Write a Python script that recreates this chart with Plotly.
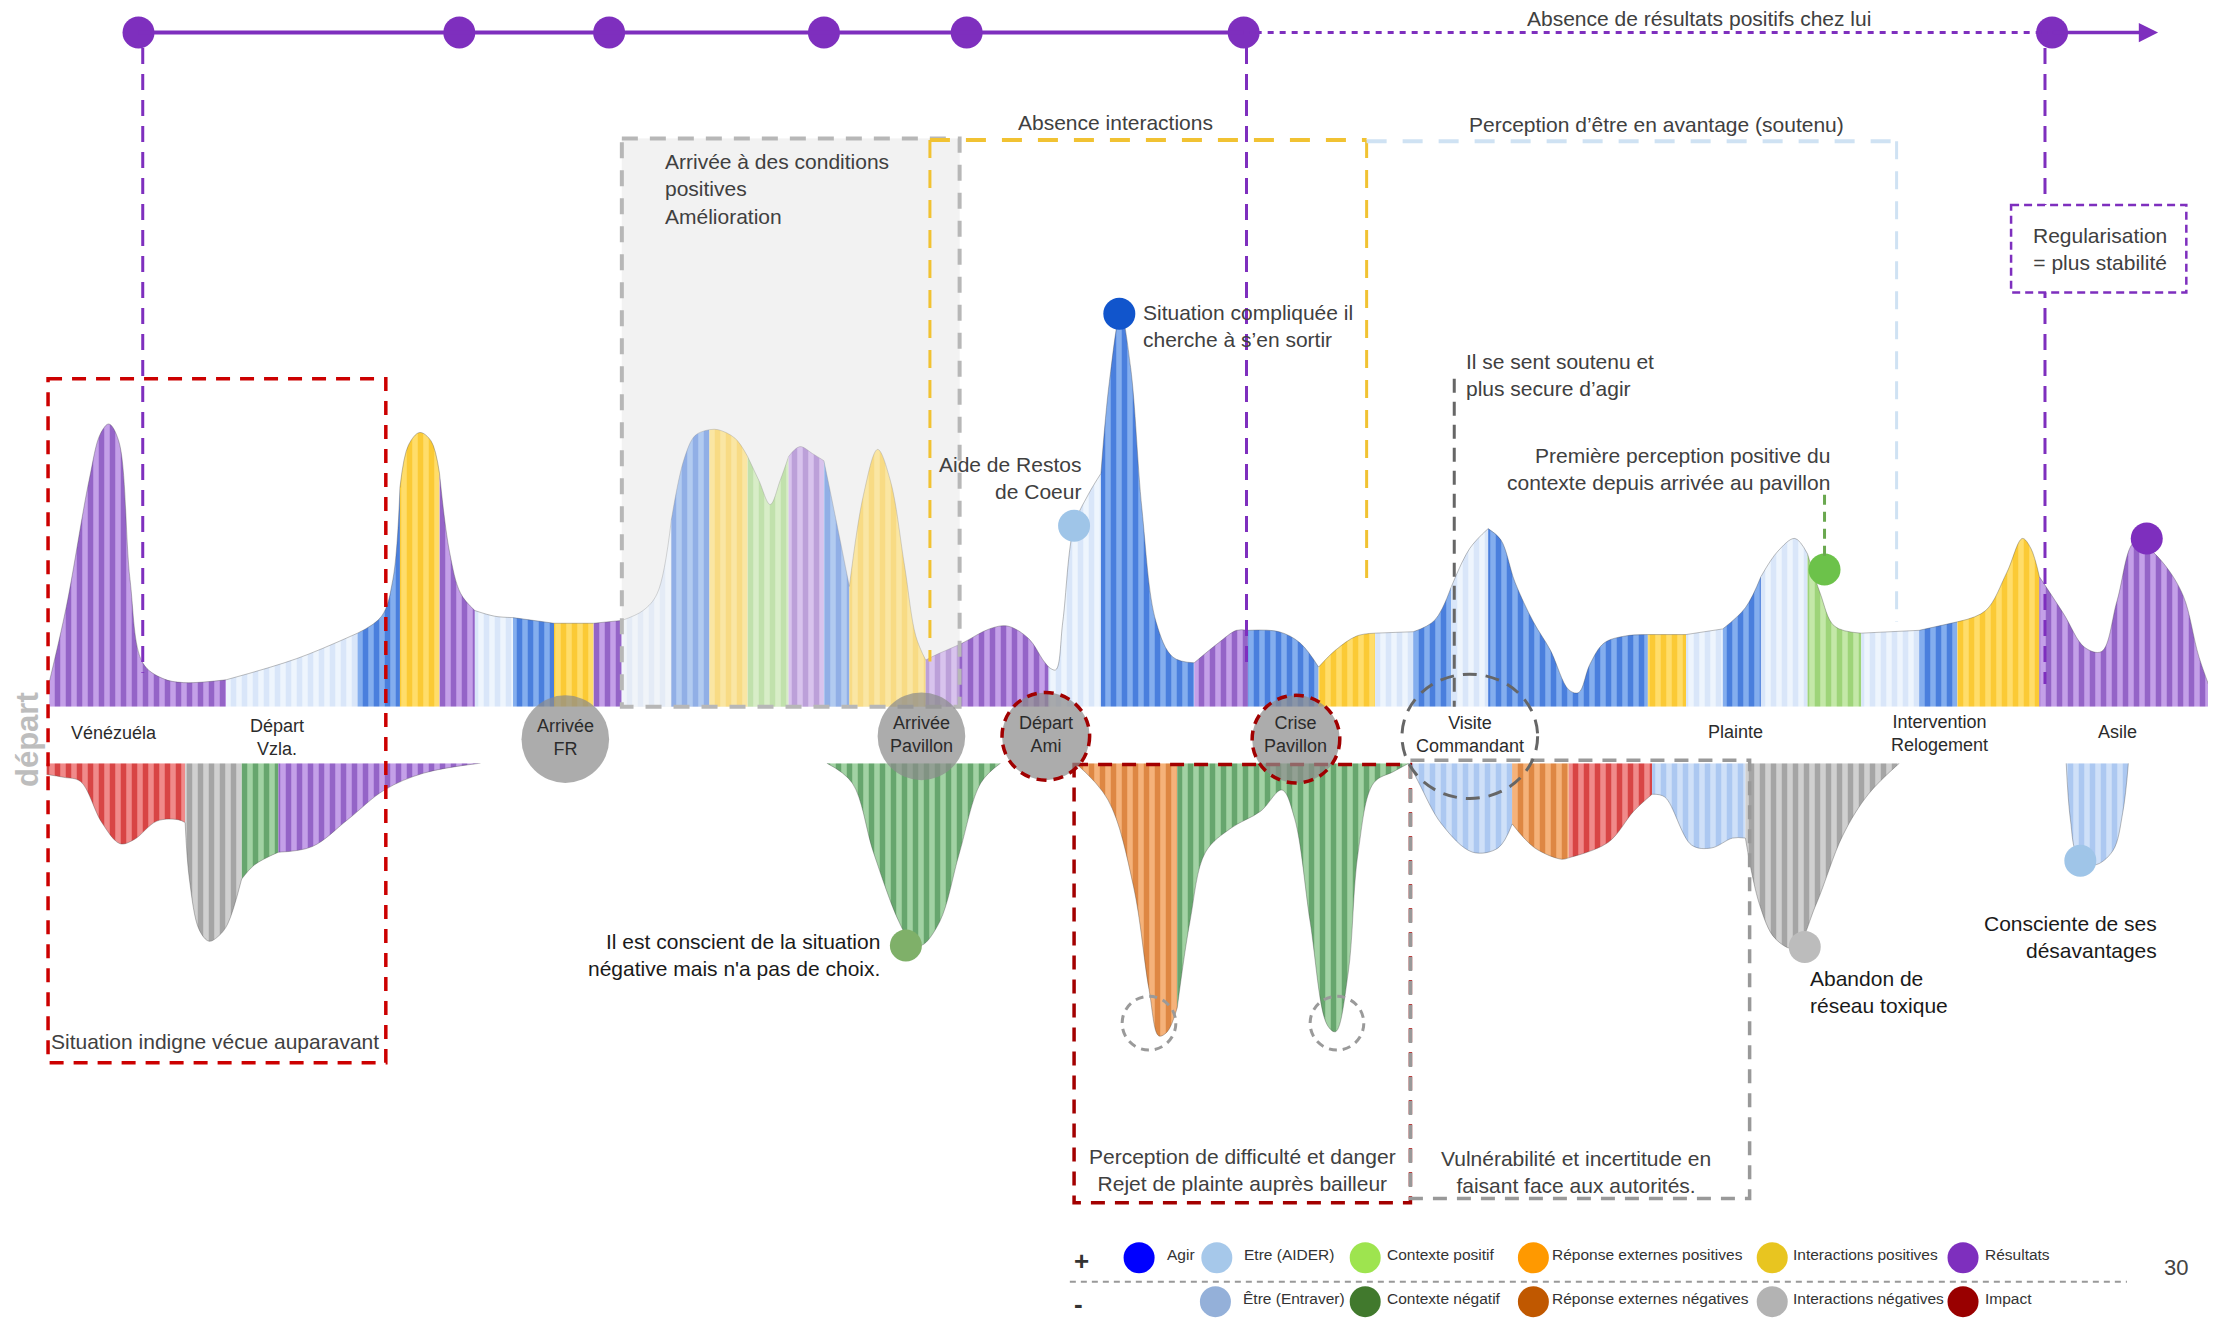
import plotly.graph_objects as go

# ======================= DATA =======================
# Timeline units: horizontal position along the journey (0..1568)
# Positive emotional curve: control points (position, intensity above baseline)
pos_x = [35, 47, 63, 71, 77, 84, 92, 101, 115, 130, 160,
         210, 253,
         270, 278, 283,
         289, 297, 305, 311,
         318, 326, 336,
         350, 363,
         392, 420, 440,
         455, 465, 475,
         484, 492, 502,
         508, 520, 529,
         537, 545, 552, 558,
         566, 575, 583,
         592, 601,
         611, 621, 630, 640, 648, 655,
         663, 681, 700, 713, 728, 738, 742,
         747, 752, 760, 770, 779,
         785, 793, 800, 808, 818, 830, 845,
         862, 875, 883,
         905, 920, 933,
         945, 960, 973,
         1000, 1015, 1027,
         1040, 1053,
         1062, 1072, 1085, 1097, 1110, 1117, 1125, 1135, 1150, 1166,
         1193, 1219,
         1235, 1246,
         1258, 1270, 1279,
         1288, 1298, 1317,
         1358, 1385,
         1405, 1420, 1431, 1437, 1443,
         1460, 1475, 1487, 1498, 1510, 1520, 1532, 1545, 1556, 1568]
pos_h = [18, 71, 160, 193, 200, 188, 90, 31, 20, 17, 19,
         34, 52,
         64, 90, 155,
         185, 194, 188, 165,
         110, 80, 68,
         64, 63,
         59, 59, 61,
         68, 80, 132,
         175, 192, 196,
         196, 190, 177,
         160, 143, 160, 177,
         184, 179, 174,
         130, 85,
         150, 182, 160, 100, 50, 33,
         37, 45, 55, 57, 48, 33, 28,
         26, 60, 128, 150, 165,
         230, 278, 240, 140, 60, 35, 31,
         45, 54, 54,
         53, 45, 28,
         40, 50, 52,
         53, 61, 85,
         112, 126,
         118, 88, 60, 40, 12, 10, 30, 45, 50, 51,
         51, 55,
         70, 92,
         110, 119, 108,
         80, 57, 52,
         54, 60,
         68, 95, 119, 112, 92,
         66, 42, 39, 75, 116, 112, 100, 78, 35, 2]
pos_seg_start = [35, 160, 253, 283, 311, 336, 363, 392, 420, 440, 475, 502, 529, 558, 583, 601, 655, 742,
                 779, 845, 883, 933, 973, 1000, 1027, 1053, 1166, 1193, 1219, 1246, 1279, 1317, 1358, 1385, 1443]
pos_seg_end = [160, 253, 283, 311, 336, 363, 392, 420, 440, 475, 502, 529, 558, 583, 601, 655, 742, 779,
               845, 883, 933, 973, 1000, 1027, 1053, 1166, 1193, 1219, 1246, 1279, 1317, 1358, 1385, 1443, 1568]
pos_seg_cat = ['res', 'aider', 'agir', 'ipos', 'res', 'aider', 'agir', 'ipos', 'res', 'aider',
               'agir', 'ipos', 'cpos', 'res', 'agir', 'ipos', 'res', 'aider', 'agir', 'res',
               'agir', 'ipos', 'aider', 'agir', 'aider', 'agir', 'ipos', 'aider', 'agir', 'aider',
               'cpos', 'aider', 'agir', 'ipos', 'res']

# Negative emotional curve: control points (position, intensity below baseline)
neg_x = [33, 45, 57, 72, 85, 95, 111, 126, 131,
         134, 141, 148, 155, 161, 171,
         180, 197,
         221, 246, 272, 300, 340,
         585, 603, 618, 636, 645, 652, 665, 679, 694, 708,
         761, 784, 802, 813, 820, 826, 833,
         842, 853, 871, 892, 907, 916, 927, 939, 945, 954, 961, 972, 986, 997,
         1004, 1020, 1042, 1060, 1070,
         1086, 1105, 1110,
         1138, 1156, 1169,
         1178, 1197, 1211, 1226, 1235,
         1245, 1256, 1270, 1285, 1304, 1322, 1344,
         1462, 1465, 1470, 1482, 1495, 1502, 1506]
neg_d = [-8, -10, -13, -42, -57, -54, -41, -40, -42,
         -82, -118, -126, -122, -114, -82,
         -72, -63,
         -59, -40, -19, -7, 0,
         0, -14, -63, -112, -127, -129, -112, -63, -14, 0,
         0, -26, -87, -160, -193, -190, -173,
         -112, -63, -46, -34, -19, -39, -112, -185, -190, -148, -63, -14, -6, 0,
         -14, -43, -63, -60, -43,
         -60, -68, -67,
         -56, -34, -22,
         -24, -58, -60, -53, -53,
         -100, -124, -131, -100, -51, -22, 0,
         0, -40, -65, -72, -62, -35, 0]
neg_seg_start = [33, 131, 171, 197, 585, 761, 833, 997, 1070, 1110, 1169, 1235, 1462]
neg_seg_end = [131, 171, 197, 340, 708, 833, 997, 1070, 1110, 1169, 1235, 1344, 1506]
neg_seg_cat = ['impact', 'ineg', 'cneg', 'res', 'cneg', 'rneg', 'cneg', 'eneg', 'rneg', 'impact',
               'eneg', 'ineg', 'eneg']

# Results timeline (top)
timeline_x = [98, 325, 431, 583, 684, 880, 1452]

# Events on the middle band
event_labels = ["Vénézuéla", "Départ<br>Vzla.", "Arrivée<br>FR", "Arrivée<br>Pavillon", "Départ<br>Ami",
                "Crise<br>Pavillon", "Visite<br>Commandant", "Plainte", "Intervention<br>Relogement", "Asile"]
event_x = [81, 196, 400, 652, 740, 917, 1040, 1228, 1372, 1498]

# Highlighted moments (dots)
moment_x = [792, 760, 1291, 1519, 641, 1277, 1472]
moment_y = [222, 372, 403, 381, 669, 670, 609]
moment_cat = ['agir_dot', 'aider_dot', 'cpos_dot', 'res_dot', 'cneg_dot', 'ineg_dot', 'aider_dot']

# Legend
legend_pos_labels = ["Agir", "Etre (AIDER)", "Contexte positif", "Réponse externes positives",
                     "Interactions positives", "Résultats"]
legend_neg_labels = ["Être (Entraver)", "Contexte négatif", "Réponse externes négatives",
                     "Interactions négatives", "Impact"]
page_number = "30"

# ======================= STYLES / LAYOUT =======================
OFF = 8 / (2216 / 1568)        # compensates the page's 8px body margin
POS_BASE, NEG_BASE, SX, SY = 500, 540, 1568, 934
FONT = "Liberation Sans, Arial, sans-serif"
TXT = "#404040"
PURPLE = "#7e2fbe"
STYLE = {
    'res': ('#6428a6', '#c4a0e8'),
    'aider': ('#c3d8f5', '#eef5fd'),
    'agir': ('#0f4fcc', '#84aeee'),
    'ipos': ('#f7b800', '#ffdd6a'),
    'cpos': ('#78c04a', '#c4e8a8'),
    'impact': ('#c00000', '#f08a8a'),
    'ineg': ('#7a7a7a', '#d0d0d0'),
    'cneg': ('#2b7a37', '#a2d2a4'),
    'rneg': ('#c75c0c', '#f5b27a'),
    'eneg': ('#89afe9', '#cfe0f8'),
}
DOT_COL = {'agir_dot': '#1155cc', 'aider_dot': '#9fc5e8', 'cpos_dot': '#6cc24a', 'res_dot': PURPLE,
           'cneg_dot': '#7fb069', 'ineg_dot': '#bcbcbc'}
LEG_POS_COL = ['#0000ff', '#a6c8ea', '#9ee44f', '#ff9900', '#e8c520', '#7e2fbe']
LEG_NEG_COL = ['#94b0d9', '#41792d', '#c05800', '#b3b3b3', '#990000']
LEG_POS_DOT_X = [806, 861, 966, 1085, 1254, 1389]
LEG_POS_TXT_X = [824, 879, 980, 1097, 1267, 1403]
LEG_NEG_DOT_X = [860, 966, 1085, 1254, 1389]
LEG_NEG_TXT_X = [878, 980, 1097, 1267, 1403]

fig = go.Figure()


def pick(xs, ys, s, e):
    px, py = [], []
    for x, y in zip(xs, ys):
        if s <= x <= e:
            px.append(x)
            py.append(y)
    return px, py


def add_curve(xs, ys, starts, ends, cats, yaxis):
    for s, e, c in zip(starts, ends, cats):
        px, py = pick(xs, ys, s, e)
        fg, bg = STYLE[c]
        fig.add_trace(go.Scatter(
            x=px, y=py, mode='lines', xaxis='x', yaxis=yaxis,
            line=dict(shape='spline', smoothing=1.0, width=1, color='rgba(70,70,70,0.35)'),
            fill='tozeroy', fillcolor=bg,
            fillpattern=dict(shape='|', fgcolor=fg, bgcolor=bg, size=11, solidity=0.5),
            hoverinfo='skip', showlegend=False))


# gray "amélioration" box background (under the curve, in the curve's own axis)
BOX_BG = dict(type='rect', xref='x', yref='y', x0=440, x1=679, y0=0, y1=POS_BASE - 98,
              layer='below', fillcolor='#f2f2f2', line=dict(width=0))

add_curve(pos_x, pos_h, pos_seg_start, pos_seg_end, pos_seg_cat, 'y')
add_curve(neg_x, neg_d, neg_seg_start, neg_seg_end, neg_seg_cat, 'y2')

# timeline dots
fig.add_trace(go.Scatter(x=timeline_x, y=[23] * len(timeline_x), mode='markers', xaxis='x', yaxis='y3',
                         marker=dict(size=32, color=PURPLE), hoverinfo='skip', showlegend=False))
# moment dots
fig.add_trace(go.Scatter(x=moment_x, y=moment_y, mode='markers', xaxis='x', yaxis='y3',
                         marker=dict(size=32, color=[DOT_COL[c] for c in moment_cat]),
                         hoverinfo='skip', showlegend=False))
# legend dots
fig.add_trace(go.Scatter(x=LEG_POS_DOT_X + LEG_NEG_DOT_X,
                         y=[890] * len(LEG_POS_DOT_X) + [921] * len(LEG_NEG_DOT_X),
                         mode='markers', xaxis='x', yaxis='y3',
                         marker=dict(size=31, color=LEG_POS_COL + LEG_NEG_COL),
                         hoverinfo='skip', showlegend=False))

shapes = [BOX_BG]


def L(x0, y0, x1, y1, color, width=3, dash='solid', layer='above'):
    shapes.append(dict(type='line', xref='x', yref='y3', x0=x0, y0=y0, x1=x1, y1=y1, layer=layer,
                       line=dict(color=color, width=width, dash=dash)))


def R(x0, y0, x1, y1, color=None, width=3, dash='solid', fill=None, layer='above'):
    shapes.append(dict(type='rect', xref='x', yref='y3', x0=x0, y0=y0, x1=x1, y1=y1, layer=layer,
                       fillcolor=fill if fill else 'rgba(0,0,0,0)',
                       line=dict(color=color if color else 'rgba(0,0,0,0)', width=width if color else 0,
                                 dash=dash)))


def C(cx, cy, rx, ry, color=None, width=3, dash='solid', fill=None):
    shapes.append(dict(type='circle', xref='x', yref='y3', x0=cx - rx, x1=cx + rx, y0=cy - ry, y1=cy + ry,
                       layer='above', fillcolor=fill if fill else 'rgba(0,0,0,0)',
                       line=dict(color=color if color else 'rgba(0,0,0,0)', width=width if color else 0,
                                 dash=dash)))


# gray "amélioration" box overlay + outline
R(440, 98, 679, 500, fill='rgba(242,242,242,0.42)')
R(440, 98, 679, 500, color='#b7b7b7', width=4, dash='16px,12px')

# top timeline
L(98, 23, 880, 23, PURPLE, 4)
L(880, 23, 1452, 23, PURPLE, 3, '6px,6px')
# purple vertical dashed
L(101, 34, 101, 476, PURPLE, 3, '16px,10px')
L(882, 34, 882, 470, PURPLE, 3, '16px,10px')
L(1447, 34, 1447, 484, PURPLE, 3, '16px,10px')

# yellow "Absence interactions"
L(658, 99, 967, 99, '#f1c232', 4, '20px,16px')
L(658, 99, 658, 468, '#f1c232', 3, '18px,12px')
L(967, 99, 967, 415, '#f1c232', 3, '18px,12px')
# light blue "Perception d'être en avantage"
L(967, 100, 1342, 100, '#cfe2f3', 4, '20px,16px')
L(1342, 100, 1342, 440, '#cfe2f3', 3, '18px,12px')
# dark gray vertical
L(1029, 268, 1029, 500, '#666666', 3, '14px,9px')
# green vertical
L(1291, 350, 1291, 395, '#6aa84f', 3, '10px,7px')

# Regularisation box
R(1423, 145, 1547, 207, color=PURPLE, width=2.5, dash='8px,5px', fill='white')

# red boxes
R(34, 268, 273, 752, color='#cc0000', width=3.5, dash='14px,10px')
R(760, 541, 998, 851, color='#a30000', width=3.5, dash='14px,10px')
R(998, 538, 1238, 848, color='#999999', width=3.5, dash='14px,10px')

# small dashed circles at lowest points
C(813, 724, 19, 19, color='#9a9a9a', width=3, dash='8px,6px')
C(946, 724, 19, 19, color='#9a9a9a', width=3, dash='8px,6px')

# event circles
C(400, 523, 31, 31, fill='rgba(140,140,140,0.72)')
C(652, 521, 31, 31, fill='rgba(140,140,140,0.72)')
C(740, 521, 31, 31, fill='rgba(140,140,140,0.72)', color='#a00000', width=3.5, dash='10px,7px')
C(917, 523, 31, 31, fill='rgba(140,140,140,0.72)', color='#a00000', width=3.5, dash='10px,7px')
C(1040, 521, 48, 44, color='#666666', width=3, dash='14px,9px')

# legend separator
L(757, 907, 1505, 907, '#999999', 2, '6px,5px')

annotations = []


def T(text, x, y, size=21, color=TXT, xanchor='center', align=None, bold=False, angle=0):
    annotations.append(dict(
        text=f"<b>{text}</b>" if bold else text, x=x, y=y, xref='x', yref='y3', showarrow=False,
        xanchor=xanchor, yanchor='middle', align=align if align else xanchor,
        textangle=angle, font=dict(family=FONT, size=size, color=color)))


# arrow at the end of the timeline
annotations.append(dict(x=1527, y=23, ax=1452, ay=23, xref='x', yref='y3', axref='x', ayref='y3',
                        text='', showarrow=True, arrowhead=2, arrowsize=1.1, arrowwidth=3.5,
                        arrowcolor=PURPLE))

T("Absence de résultats positifs chez lui", 1202, 13)
T("Absence interactions", 789, 87)
T("Perception d’être en avantage (soutenu)", 1172, 88)
T("Arrivée à des conditions<br>positives<br>Amélioration", 469, 134, xanchor='left')
T("Regularisation<br>= plus stabilité", 1486, 176)
T("Situation compliquée il<br>cherche à s’en sortir", 807, 231, xanchor='left')
T("Il se sent soutenu et<br>plus secure d’agir", 1036, 265, xanchor='left')
T("Aide de Restos<br>de Coeur", 766, 338, xanchor='right')
T("Première perception positive du<br>contexte depuis arrivée au pavillon", 1296, 332, xanchor='right')
T("Situation indigne vécue auparavant", 35, 737, xanchor='left')
T("Il est conscient de la situation<br>négative mais n'a pas de choix.", 624, 676, color='#1a1a1a',
  xanchor='right')
T("Abandon de<br>réseau toxique", 1279, 702, color='#1a1a1a', xanchor='left')
T("Consciente de ses<br>désavantages", 1528, 663, color='#1a1a1a', xanchor='right')
T("Perception de difficulté et danger<br>Rejet de plainte auprès bailleur", 879, 828)
T("Vulnérabilité et incertitude en<br>faisant face aux autorités.", 1115, 829)

event_y = [519, 522, 522, 520, 520, 520, 520, 518, 519, 518]
for lab, ex, ey in zip(event_labels, event_x, event_y):
    T(lab, ex, ey, size=18, color='#2b2b2b')

T("départ", 19, 523, size=31, color='#bdbdbd', bold=True, angle=-90)

# legend texts
T("+", 765, 892, size=26, color='#333333', bold=True)
T("-", 763, 923, size=26, color='#333333', bold=True)
for lab, lx in zip(legend_pos_labels, LEG_POS_TXT_X):
    T(lab, lx, 888, size=15.5, color='#333333', xanchor='left')
for lab, lx in zip(legend_neg_labels, LEG_NEG_TXT_X):
    T(lab, lx, 919, size=15.5, color='#333333', xanchor='left')
T(page_number, 1540, 897, size=22, color='#444444')

pb = POS_BASE - OFF
nb = NEG_BASE - OFF
fig.update_layout(
    width=2216, height=1320, margin=dict(l=0, r=0, t=0, b=0),
    paper_bgcolor='white', plot_bgcolor='rgba(0,0,0,0)', showlegend=False,
    xaxis=dict(range=[OFF, SX + OFF], domain=[0, 1], visible=False, fixedrange=True),
    yaxis=dict(range=[0, pb], domain=[1 - pb / SY, 1], visible=False, fixedrange=True),
    yaxis2=dict(range=[-(SY - nb), 0], domain=[0, 1 - nb / SY], visible=False, anchor='x', fixedrange=True),
    yaxis3=dict(range=[SY + OFF, OFF], domain=[0, 1], visible=False, anchor='x', fixedrange=True),
    shapes=shapes, annotations=annotations,
)

fig.write_html("out.html")
